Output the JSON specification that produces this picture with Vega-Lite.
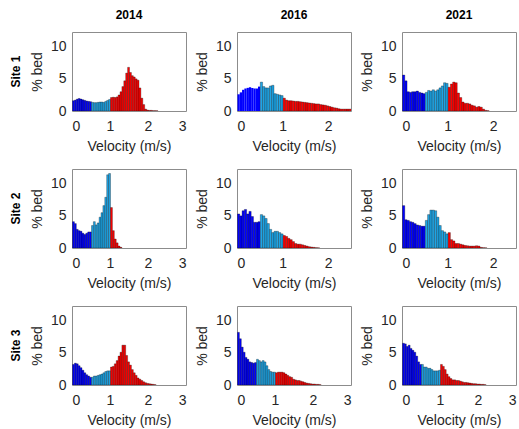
{
  "$schema": "https://vega.github.io/schema/vega-lite/v6.json",
  "padding": {"left": 10, "top": 9, "right": 0, "bottom": 0},
  "background": "white",
  "config": {
    "font": "Liberation Sans",
    "view": {"stroke": "#8c8c8c", "strokeWidth": 1},
    "axis": {
      "labelFont": "Liberation Sans", "labelFontSize": 14, "labelColor": "#262626",
      "titleFont": "Liberation Sans", "titleFontSize": 14, "titleFontWeight": "normal", "titleColor": "#262626",
      "grid": false, "ticks": false, "domain": false
    },
    "axisX": {"labelPadding": 8, "titlePadding": 6},
    "axisY": {"labelPadding": 6, "titlePadding": 6},
    "header": {"labelFont": "Liberation Sans", "labelFontSize": 12, "labelFontWeight": "bold", "labelColor": "#000000"}
  },
  "data": {"values": [
      {"site":"Site 1","year":"2014","v":0,"pct":1.6},{"site":"Site 1","year":"2014","v":0.05,"pct":1.7},{"site":"Site 1","year":"2014","v":0.1,"pct":1.85},{"site":"Site 1","year":"2014","v":0.15,"pct":1.95},{"site":"Site 1","year":"2014","v":0.2,"pct":1.85},{"site":"Site 1","year":"2014","v":0.25,"pct":1.75},{"site":"Site 1","year":"2014","v":0.3,"pct":1.65},{"site":"Site 1","year":"2014","v":0.35,"pct":1.55},{"site":"Site 1","year":"2014","v":0.4,"pct":1.5},{"site":"Site 1","year":"2014","v":0.45,"pct":1.45},
      {"site":"Site 1","year":"2014","v":0.5,"pct":1.35},{"site":"Site 1","year":"2014","v":0.55,"pct":1.3},{"site":"Site 1","year":"2014","v":0.6,"pct":1.3},{"site":"Site 1","year":"2014","v":0.65,"pct":1.35},{"site":"Site 1","year":"2014","v":0.7,"pct":1.4},{"site":"Site 1","year":"2014","v":0.75,"pct":1.4},{"site":"Site 1","year":"2014","v":0.8,"pct":1.35},{"site":"Site 1","year":"2014","v":0.85,"pct":1.5},{"site":"Site 1","year":"2014","v":0.9,"pct":1.65},{"site":"Site 1","year":"2014","v":0.95,"pct":1.8},
      {"site":"Site 1","year":"2014","v":1,"pct":2.1},{"site":"Site 1","year":"2014","v":1.05,"pct":2.15},{"site":"Site 1","year":"2014","v":1.1,"pct":2.1},{"site":"Site 1","year":"2014","v":1.15,"pct":2.2},{"site":"Site 1","year":"2014","v":1.2,"pct":2.5},{"site":"Site 1","year":"2014","v":1.25,"pct":3.0},{"site":"Site 1","year":"2014","v":1.3,"pct":3.8},{"site":"Site 1","year":"2014","v":1.35,"pct":4.7},{"site":"Site 1","year":"2014","v":1.4,"pct":5.9},{"site":"Site 1","year":"2014","v":1.45,"pct":6.8},
      {"site":"Site 1","year":"2014","v":1.5,"pct":6.0},{"site":"Site 1","year":"2014","v":1.55,"pct":5.5},{"site":"Site 1","year":"2014","v":1.6,"pct":5.3},{"site":"Site 1","year":"2014","v":1.65,"pct":5.0},{"site":"Site 1","year":"2014","v":1.7,"pct":4.8},{"site":"Site 1","year":"2014","v":1.75,"pct":3.6},{"site":"Site 1","year":"2014","v":1.8,"pct":2.0},{"site":"Site 1","year":"2014","v":1.85,"pct":1.0},{"site":"Site 1","year":"2014","v":1.9,"pct":0.3},{"site":"Site 1","year":"2014","v":1.95,"pct":0.15},
      {"site":"Site 1","year":"2014","v":2,"pct":0.1},{"site":"Site 1","year":"2014","v":2.05,"pct":0.1},{"site":"Site 1","year":"2014","v":2.1,"pct":0.05},{"site":"Site 1","year":"2014","v":2.15,"pct":0.05},{"site":"Site 1","year":"2014","v":2.2,"pct":0.03},{"site":"Site 1","year":"2014","v":3,"pct":0},

      {"site":"Site 1","year":"2016","v":0,"pct":2.6},{"site":"Site 1","year":"2016","v":0.05,"pct":2.9},{"site":"Site 1","year":"2016","v":0.1,"pct":3.3},{"site":"Site 1","year":"2016","v":0.15,"pct":3.5},{"site":"Site 1","year":"2016","v":0.2,"pct":3.6},{"site":"Site 1","year":"2016","v":0.25,"pct":3.7},{"site":"Site 1","year":"2016","v":0.3,"pct":3.6},{"site":"Site 1","year":"2016","v":0.35,"pct":3.5},{"site":"Site 1","year":"2016","v":0.4,"pct":3.5},{"site":"Site 1","year":"2016","v":0.45,"pct":3.8},
      {"site":"Site 1","year":"2016","v":0.5,"pct":4.5},{"site":"Site 1","year":"2016","v":0.55,"pct":3.8},{"site":"Site 1","year":"2016","v":0.6,"pct":3.6},{"site":"Site 1","year":"2016","v":0.65,"pct":3.6},{"site":"Site 1","year":"2016","v":0.7,"pct":3.9},{"site":"Site 1","year":"2016","v":0.75,"pct":4.0},{"site":"Site 1","year":"2016","v":0.8,"pct":2.7},{"site":"Site 1","year":"2016","v":0.85,"pct":2.6},{"site":"Site 1","year":"2016","v":0.9,"pct":2.5},{"site":"Site 1","year":"2016","v":0.95,"pct":2.4},
      {"site":"Site 1","year":"2016","v":1,"pct":2.0},{"site":"Site 1","year":"2016","v":1.05,"pct":1.7},{"site":"Site 1","year":"2016","v":1.1,"pct":1.6},{"site":"Site 1","year":"2016","v":1.15,"pct":1.6},{"site":"Site 1","year":"2016","v":1.2,"pct":1.55},{"site":"Site 1","year":"2016","v":1.25,"pct":1.5},{"site":"Site 1","year":"2016","v":1.3,"pct":1.5},{"site":"Site 1","year":"2016","v":1.35,"pct":1.45},{"site":"Site 1","year":"2016","v":1.4,"pct":1.4},{"site":"Site 1","year":"2016","v":1.45,"pct":1.35},
      {"site":"Site 1","year":"2016","v":1.5,"pct":1.3},{"site":"Site 1","year":"2016","v":1.55,"pct":1.25},{"site":"Site 1","year":"2016","v":1.6,"pct":1.2},{"site":"Site 1","year":"2016","v":1.65,"pct":1.15},{"site":"Site 1","year":"2016","v":1.7,"pct":1.1},{"site":"Site 1","year":"2016","v":1.75,"pct":1.1},{"site":"Site 1","year":"2016","v":1.8,"pct":1.0},{"site":"Site 1","year":"2016","v":1.85,"pct":0.95},{"site":"Site 1","year":"2016","v":1.9,"pct":0.9},{"site":"Site 1","year":"2016","v":1.95,"pct":0.8},
      {"site":"Site 1","year":"2016","v":2,"pct":0.7},{"site":"Site 1","year":"2016","v":2.05,"pct":0.6},{"site":"Site 1","year":"2016","v":2.1,"pct":0.5},{"site":"Site 1","year":"2016","v":2.15,"pct":0.45},{"site":"Site 1","year":"2016","v":2.2,"pct":0.35},{"site":"Site 1","year":"2016","v":2.25,"pct":0.3},{"site":"Site 1","year":"2016","v":2.3,"pct":0.3},{"site":"Site 1","year":"2016","v":2.35,"pct":0.3},{"site":"Site 1","year":"2016","v":2.4,"pct":0.3},{"site":"Site 1","year":"2016","v":2.45,"pct":0.3},{"site":"Site 1","year":"2016","v":2.5,"pct":0},

      {"site":"Site 1","year":"2021","v":0,"pct":5.6},{"site":"Site 1","year":"2021","v":0.05,"pct":4.7},{"site":"Site 1","year":"2021","v":0.1,"pct":3.0},{"site":"Site 1","year":"2021","v":0.15,"pct":2.9},{"site":"Site 1","year":"2021","v":0.2,"pct":3.0},{"site":"Site 1","year":"2021","v":0.25,"pct":3.0},{"site":"Site 1","year":"2021","v":0.3,"pct":3.1},{"site":"Site 1","year":"2021","v":0.35,"pct":2.9},{"site":"Site 1","year":"2021","v":0.4,"pct":2.8},{"site":"Site 1","year":"2021","v":0.45,"pct":2.7},
      {"site":"Site 1","year":"2021","v":0.5,"pct":2.9},{"site":"Site 1","year":"2021","v":0.55,"pct":3.2},{"site":"Site 1","year":"2021","v":0.6,"pct":3.1},{"site":"Site 1","year":"2021","v":0.65,"pct":3.3},{"site":"Site 1","year":"2021","v":0.7,"pct":3.1},{"site":"Site 1","year":"2021","v":0.75,"pct":3.3},{"site":"Site 1","year":"2021","v":0.8,"pct":3.6},{"site":"Site 1","year":"2021","v":0.85,"pct":3.9},{"site":"Site 1","year":"2021","v":0.9,"pct":4.4},{"site":"Site 1","year":"2021","v":0.95,"pct":4.3},
      {"site":"Site 1","year":"2021","v":1,"pct":3.7},{"site":"Site 1","year":"2021","v":1.05,"pct":4.2},{"site":"Site 1","year":"2021","v":1.1,"pct":4.5},{"site":"Site 1","year":"2021","v":1.15,"pct":4.4},{"site":"Site 1","year":"2021","v":1.2,"pct":2.8},{"site":"Site 1","year":"2021","v":1.25,"pct":2.1},{"site":"Site 1","year":"2021","v":1.3,"pct":1.4},{"site":"Site 1","year":"2021","v":1.35,"pct":1.2},{"site":"Site 1","year":"2021","v":1.4,"pct":1.2},{"site":"Site 1","year":"2021","v":1.45,"pct":1.1},
      {"site":"Site 1","year":"2021","v":1.5,"pct":0.9},{"site":"Site 1","year":"2021","v":1.55,"pct":0.8},{"site":"Site 1","year":"2021","v":1.6,"pct":0.6},{"site":"Site 1","year":"2021","v":1.65,"pct":0.7},{"site":"Site 1","year":"2021","v":1.7,"pct":0.6},{"site":"Site 1","year":"2021","v":1.75,"pct":0.3},{"site":"Site 1","year":"2021","v":1.8,"pct":0.1},{"site":"Site 1","year":"2021","v":1.85,"pct":0.05},{"site":"Site 1","year":"2021","v":2.5,"pct":0},

      {"site":"Site 2","year":"2014","v":0,"pct":4.1},{"site":"Site 2","year":"2014","v":0.05,"pct":3.8},{"site":"Site 2","year":"2014","v":0.1,"pct":2.9},{"site":"Site 2","year":"2014","v":0.15,"pct":2.7},{"site":"Site 2","year":"2014","v":0.2,"pct":2.6},{"site":"Site 2","year":"2014","v":0.25,"pct":2.3},{"site":"Site 2","year":"2014","v":0.3,"pct":2.1},{"site":"Site 2","year":"2014","v":0.35,"pct":2.3},{"site":"Site 2","year":"2014","v":0.4,"pct":2.5},{"site":"Site 2","year":"2014","v":0.45,"pct":2.5},
      {"site":"Site 2","year":"2014","v":0.5,"pct":3.5},{"site":"Site 2","year":"2014","v":0.55,"pct":4.1},{"site":"Site 2","year":"2014","v":0.6,"pct":3.6},{"site":"Site 2","year":"2014","v":0.65,"pct":3.9},{"site":"Site 2","year":"2014","v":0.7,"pct":4.8},{"site":"Site 2","year":"2014","v":0.75,"pct":5.5},{"site":"Site 2","year":"2014","v":0.8,"pct":6.6},{"site":"Site 2","year":"2014","v":0.85,"pct":7.9},{"site":"Site 2","year":"2014","v":0.9,"pct":11.4},{"site":"Site 2","year":"2014","v":0.95,"pct":11.6},
      {"site":"Site 2","year":"2014","v":1,"pct":6.3},{"site":"Site 2","year":"2014","v":1.05,"pct":2.7},{"site":"Site 2","year":"2014","v":1.1,"pct":1.4},{"site":"Site 2","year":"2014","v":1.15,"pct":0.8},{"site":"Site 2","year":"2014","v":1.2,"pct":0.3},{"site":"Site 2","year":"2014","v":1.25,"pct":0.1},{"site":"Site 2","year":"2014","v":3,"pct":0},

      {"site":"Site 2","year":"2016","v":0,"pct":5.3},{"site":"Site 2","year":"2016","v":0.05,"pct":5.0},{"site":"Site 2","year":"2016","v":0.1,"pct":5.8},{"site":"Site 2","year":"2016","v":0.15,"pct":6.0},{"site":"Site 2","year":"2016","v":0.2,"pct":5.3},{"site":"Site 2","year":"2016","v":0.25,"pct":5.7},{"site":"Site 2","year":"2016","v":0.3,"pct":4.9},{"site":"Site 2","year":"2016","v":0.35,"pct":4.0},{"site":"Site 2","year":"2016","v":0.4,"pct":4.0},{"site":"Site 2","year":"2016","v":0.45,"pct":4.1},
      {"site":"Site 2","year":"2016","v":0.5,"pct":5.2},{"site":"Site 2","year":"2016","v":0.55,"pct":5.0},{"site":"Site 2","year":"2016","v":0.6,"pct":4.6},{"site":"Site 2","year":"2016","v":0.65,"pct":3.8},{"site":"Site 2","year":"2016","v":0.7,"pct":2.9},{"site":"Site 2","year":"2016","v":0.75,"pct":2.4},{"site":"Site 2","year":"2016","v":0.8,"pct":2.6},{"site":"Site 2","year":"2016","v":0.85,"pct":2.6},{"site":"Site 2","year":"2016","v":0.9,"pct":2.4},{"site":"Site 2","year":"2016","v":0.95,"pct":2.2},
      {"site":"Site 2","year":"2016","v":1,"pct":1.95},{"site":"Site 2","year":"2016","v":1.05,"pct":1.8},{"site":"Site 2","year":"2016","v":1.1,"pct":1.5},{"site":"Site 2","year":"2016","v":1.15,"pct":1.3},{"site":"Site 2","year":"2016","v":1.2,"pct":1.0},{"site":"Site 2","year":"2016","v":1.25,"pct":0.7},{"site":"Site 2","year":"2016","v":1.3,"pct":0.6},{"site":"Site 2","year":"2016","v":1.35,"pct":0.6},{"site":"Site 2","year":"2016","v":1.4,"pct":0.5},{"site":"Site 2","year":"2016","v":1.45,"pct":0.4},
      {"site":"Site 2","year":"2016","v":1.5,"pct":0.3},{"site":"Site 2","year":"2016","v":1.55,"pct":0.2},{"site":"Site 2","year":"2016","v":1.6,"pct":0.15},{"site":"Site 2","year":"2016","v":1.65,"pct":0.1},{"site":"Site 2","year":"2016","v":1.7,"pct":0.05},{"site":"Site 2","year":"2016","v":1.75,"pct":0.03},{"site":"Site 2","year":"2016","v":2.5,"pct":0},

      {"site":"Site 2","year":"2021","v":0,"pct":6.6},{"site":"Site 2","year":"2021","v":0.05,"pct":4.4},{"site":"Site 2","year":"2021","v":0.1,"pct":4.3},{"site":"Site 2","year":"2021","v":0.15,"pct":4.1},{"site":"Site 2","year":"2021","v":0.2,"pct":4.0},{"site":"Site 2","year":"2021","v":0.25,"pct":3.8},{"site":"Site 2","year":"2021","v":0.3,"pct":3.6},{"site":"Site 2","year":"2021","v":0.35,"pct":3.5},{"site":"Site 2","year":"2021","v":0.4,"pct":3.4},{"site":"Site 2","year":"2021","v":0.45,"pct":3.4},
      {"site":"Site 2","year":"2021","v":0.5,"pct":4.3},{"site":"Site 2","year":"2021","v":0.55,"pct":5.2},{"site":"Site 2","year":"2021","v":0.6,"pct":5.9},{"site":"Site 2","year":"2021","v":0.65,"pct":5.9},{"site":"Site 2","year":"2021","v":0.7,"pct":5.8},{"site":"Site 2","year":"2021","v":0.75,"pct":4.8},{"site":"Site 2","year":"2021","v":0.8,"pct":3.5},{"site":"Site 2","year":"2021","v":0.85,"pct":2.7},{"site":"Site 2","year":"2021","v":0.9,"pct":2.5},{"site":"Site 2","year":"2021","v":0.95,"pct":2.2},
      {"site":"Site 2","year":"2021","v":1,"pct":2.4},{"site":"Site 2","year":"2021","v":1.05,"pct":1.3},{"site":"Site 2","year":"2021","v":1.1,"pct":1.1},{"site":"Site 2","year":"2021","v":1.15,"pct":0.7},{"site":"Site 2","year":"2021","v":1.2,"pct":0.7},{"site":"Site 2","year":"2021","v":1.25,"pct":0.6},{"site":"Site 2","year":"2021","v":1.3,"pct":0.5},{"site":"Site 2","year":"2021","v":1.35,"pct":0.4},{"site":"Site 2","year":"2021","v":1.4,"pct":0.35},{"site":"Site 2","year":"2021","v":1.45,"pct":0.3},
      {"site":"Site 2","year":"2021","v":1.5,"pct":0.3},{"site":"Site 2","year":"2021","v":1.55,"pct":0.3},{"site":"Site 2","year":"2021","v":1.6,"pct":0.35},{"site":"Site 2","year":"2021","v":1.65,"pct":0.3},{"site":"Site 2","year":"2021","v":1.7,"pct":0.1},{"site":"Site 2","year":"2021","v":1.75,"pct":0.05},{"site":"Site 2","year":"2021","v":1.8,"pct":0.03},{"site":"Site 2","year":"2021","v":2.5,"pct":0},

      {"site":"Site 3","year":"2014","v":0,"pct":3.2},{"site":"Site 3","year":"2014","v":0.05,"pct":3.4},{"site":"Site 3","year":"2014","v":0.1,"pct":3.3},{"site":"Site 3","year":"2014","v":0.15,"pct":3.0},{"site":"Site 3","year":"2014","v":0.2,"pct":2.7},{"site":"Site 3","year":"2014","v":0.25,"pct":2.3},{"site":"Site 3","year":"2014","v":0.3,"pct":1.9},{"site":"Site 3","year":"2014","v":0.35,"pct":1.6},{"site":"Site 3","year":"2014","v":0.4,"pct":1.4},{"site":"Site 3","year":"2014","v":0.45,"pct":1.2},
      {"site":"Site 3","year":"2014","v":0.5,"pct":1.2},{"site":"Site 3","year":"2014","v":0.55,"pct":1.4},{"site":"Site 3","year":"2014","v":0.6,"pct":1.4},{"site":"Site 3","year":"2014","v":0.65,"pct":1.5},{"site":"Site 3","year":"2014","v":0.7,"pct":1.6},{"site":"Site 3","year":"2014","v":0.75,"pct":1.7},{"site":"Site 3","year":"2014","v":0.8,"pct":1.9},{"site":"Site 3","year":"2014","v":0.85,"pct":2.1},{"site":"Site 3","year":"2014","v":0.9,"pct":2.2},{"site":"Site 3","year":"2014","v":0.95,"pct":2.2},
      {"site":"Site 3","year":"2014","v":1,"pct":2.8},{"site":"Site 3","year":"2014","v":1.05,"pct":2.9},{"site":"Site 3","year":"2014","v":1.1,"pct":3.3},{"site":"Site 3","year":"2014","v":1.15,"pct":3.8},{"site":"Site 3","year":"2014","v":1.2,"pct":4.5},{"site":"Site 3","year":"2014","v":1.25,"pct":5.1},{"site":"Site 3","year":"2014","v":1.3,"pct":6.2},{"site":"Site 3","year":"2014","v":1.35,"pct":6.2},{"site":"Site 3","year":"2014","v":1.4,"pct":4.6},{"site":"Site 3","year":"2014","v":1.45,"pct":3.6},
      {"site":"Site 3","year":"2014","v":1.5,"pct":3.1},{"site":"Site 3","year":"2014","v":1.55,"pct":2.4},{"site":"Site 3","year":"2014","v":1.6,"pct":1.9},{"site":"Site 3","year":"2014","v":1.65,"pct":1.5},{"site":"Site 3","year":"2014","v":1.7,"pct":1.1},{"site":"Site 3","year":"2014","v":1.75,"pct":0.9},{"site":"Site 3","year":"2014","v":1.8,"pct":0.7},{"site":"Site 3","year":"2014","v":1.85,"pct":0.5},{"site":"Site 3","year":"2014","v":1.9,"pct":0.35},{"site":"Site 3","year":"2014","v":1.95,"pct":0.25},
      {"site":"Site 3","year":"2014","v":2,"pct":0.2},{"site":"Site 3","year":"2014","v":2.05,"pct":0.15},{"site":"Site 3","year":"2014","v":2.1,"pct":0.1},{"site":"Site 3","year":"2014","v":2.15,"pct":0.05},{"site":"Site 3","year":"2014","v":3,"pct":0},

      {"site":"Site 3","year":"2016","v":0,"pct":8.2},{"site":"Site 3","year":"2016","v":0.05,"pct":7.2},{"site":"Site 3","year":"2016","v":0.1,"pct":5.9},{"site":"Site 3","year":"2016","v":0.15,"pct":5.1},{"site":"Site 3","year":"2016","v":0.2,"pct":4.3},{"site":"Site 3","year":"2016","v":0.25,"pct":4.0},{"site":"Site 3","year":"2016","v":0.3,"pct":3.6},{"site":"Site 3","year":"2016","v":0.35,"pct":3.5},{"site":"Site 3","year":"2016","v":0.4,"pct":3.4},{"site":"Site 3","year":"2016","v":0.45,"pct":3.5},
      {"site":"Site 3","year":"2016","v":0.5,"pct":4.0},{"site":"Site 3","year":"2016","v":0.55,"pct":3.8},{"site":"Site 3","year":"2016","v":0.6,"pct":3.6},{"site":"Site 3","year":"2016","v":0.65,"pct":3.8},{"site":"Site 3","year":"2016","v":0.7,"pct":3.6},{"site":"Site 3","year":"2016","v":0.75,"pct":3.0},{"site":"Site 3","year":"2016","v":0.8,"pct":2.4},{"site":"Site 3","year":"2016","v":0.85,"pct":2.1},{"site":"Site 3","year":"2016","v":0.9,"pct":2.0},{"site":"Site 3","year":"2016","v":0.95,"pct":2.0},
      {"site":"Site 3","year":"2016","v":1,"pct":1.9},{"site":"Site 3","year":"2016","v":1.05,"pct":2.0},{"site":"Site 3","year":"2016","v":1.1,"pct":2.0},{"site":"Site 3","year":"2016","v":1.15,"pct":2.0},{"site":"Site 3","year":"2016","v":1.2,"pct":1.9},{"site":"Site 3","year":"2016","v":1.25,"pct":1.7},{"site":"Site 3","year":"2016","v":1.3,"pct":1.5},{"site":"Site 3","year":"2016","v":1.35,"pct":1.3},{"site":"Site 3","year":"2016","v":1.4,"pct":1.2},{"site":"Site 3","year":"2016","v":1.45,"pct":0.9},
      {"site":"Site 3","year":"2016","v":1.5,"pct":0.8},{"site":"Site 3","year":"2016","v":1.55,"pct":0.7},{"site":"Site 3","year":"2016","v":1.6,"pct":0.7},{"site":"Site 3","year":"2016","v":1.65,"pct":0.6},{"site":"Site 3","year":"2016","v":1.7,"pct":0.5},{"site":"Site 3","year":"2016","v":1.75,"pct":0.4},{"site":"Site 3","year":"2016","v":1.8,"pct":0.3},{"site":"Site 3","year":"2016","v":1.85,"pct":0.25},{"site":"Site 3","year":"2016","v":1.9,"pct":0.2},{"site":"Site 3","year":"2016","v":1.95,"pct":0.15},
      {"site":"Site 3","year":"2016","v":2,"pct":0.15},{"site":"Site 3","year":"2016","v":2.05,"pct":0.1},{"site":"Site 3","year":"2016","v":2.1,"pct":0.1},{"site":"Site 3","year":"2016","v":2.15,"pct":0.05},{"site":"Site 3","year":"2016","v":3,"pct":0},

      {"site":"Site 3","year":"2021","v":0,"pct":6.5},{"site":"Site 3","year":"2021","v":0.05,"pct":6.4},{"site":"Site 3","year":"2021","v":0.1,"pct":6.0},{"site":"Site 3","year":"2021","v":0.15,"pct":6.2},{"site":"Site 3","year":"2021","v":0.2,"pct":5.7},{"site":"Site 3","year":"2021","v":0.25,"pct":5.4},{"site":"Site 3","year":"2021","v":0.3,"pct":5.1},{"site":"Site 3","year":"2021","v":0.35,"pct":4.5},{"site":"Site 3","year":"2021","v":0.4,"pct":3.6},{"site":"Site 3","year":"2021","v":0.45,"pct":3.2},
      {"site":"Site 3","year":"2021","v":0.5,"pct":3.2},{"site":"Site 3","year":"2021","v":0.55,"pct":2.8},{"site":"Site 3","year":"2021","v":0.6,"pct":2.8},{"site":"Site 3","year":"2021","v":0.65,"pct":2.6},{"site":"Site 3","year":"2021","v":0.7,"pct":2.6},{"site":"Site 3","year":"2021","v":0.75,"pct":2.4},{"site":"Site 3","year":"2021","v":0.8,"pct":2.2},{"site":"Site 3","year":"2021","v":0.85,"pct":2.2},{"site":"Site 3","year":"2021","v":0.9,"pct":2.2},{"site":"Site 3","year":"2021","v":0.95,"pct":2.3},
      {"site":"Site 3","year":"2021","v":1,"pct":3.2},{"site":"Site 3","year":"2021","v":1.05,"pct":2.9},{"site":"Site 3","year":"2021","v":1.1,"pct":2.4},{"site":"Site 3","year":"2021","v":1.15,"pct":1.7},{"site":"Site 3","year":"2021","v":1.2,"pct":1.3},{"site":"Site 3","year":"2021","v":1.25,"pct":1.0},{"site":"Site 3","year":"2021","v":1.3,"pct":0.8},{"site":"Site 3","year":"2021","v":1.35,"pct":0.8},{"site":"Site 3","year":"2021","v":1.4,"pct":0.7},{"site":"Site 3","year":"2021","v":1.45,"pct":0.7},
      {"site":"Site 3","year":"2021","v":1.5,"pct":0.6},{"site":"Site 3","year":"2021","v":1.55,"pct":0.5},{"site":"Site 3","year":"2021","v":1.6,"pct":0.4},{"site":"Site 3","year":"2021","v":1.65,"pct":0.4},{"site":"Site 3","year":"2021","v":1.7,"pct":0.35},{"site":"Site 3","year":"2021","v":1.75,"pct":0.3},{"site":"Site 3","year":"2021","v":1.8,"pct":0.25},{"site":"Site 3","year":"2021","v":1.85,"pct":0.2},{"site":"Site 3","year":"2021","v":1.9,"pct":0.2},{"site":"Site 3","year":"2021","v":1.95,"pct":0.15},
      {"site":"Site 3","year":"2021","v":2,"pct":0.15},{"site":"Site 3","year":"2021","v":2.05,"pct":0.1},{"site":"Site 3","year":"2021","v":2.1,"pct":0.1},{"site":"Site 3","year":"2021","v":2.15,"pct":0.05},{"site":"Site 3","year":"2021","v":3,"pct":0}
  ]},
  "facet": {
    "row": {"field": "site", "type": "nominal", "title": null, "header": {"labelAngle": -90, "labelOrient": "left", "labelPadding": 44}},
    "column": {"field": "year", "type": "nominal", "title": null, "header": {"labelOrient": "top", "labelPadding": 10}}
  },
  "spacing": {"row": 58, "column": 51},
  "bounds": "flush",
  "resolve": {"scale": {"x": "independent"}, "axis": {"x": "independent", "y": "independent"}},
  "spec": {
    "width": 114,
    "height": 79,
    "mark": {"type": "bar", "stroke": "#000000", "strokeWidth": 0.3, "clip": true, "binSpacing": 0},
    "encoding": {
      "x": {"field": "v", "type": "quantitative", "bin": {"binned": true, "step": 0.05}, "scale": {"nice": false, "zero": true}, "axis": {"values": [0, 1, 2, 3], "tickCount": 10, "format": "d", "title": "Velocity (m/s)"}},
      "y": {"field": "pct", "type": "quantitative", "scale": {"domain": [0, 12.3], "nice": false}, "axis": {"values": [0, 5, 10], "tickCount": 10, "title": "% bed"}},
      "color": {"field": "v", "type": "quantitative", "scale": {"type": "threshold", "domain": [0.5, 1], "range": ["#0000ff", "#1ea5e6", "#ff0000"]}, "legend": null},
      "strokeOpacity": {"condition": {"test": "datum.pct == 0 || (datum.site == 'Site 1' && datum.year == '2016' && datum.v < 0.5)", "value": 0}, "value": 1}
    }
  }
}
